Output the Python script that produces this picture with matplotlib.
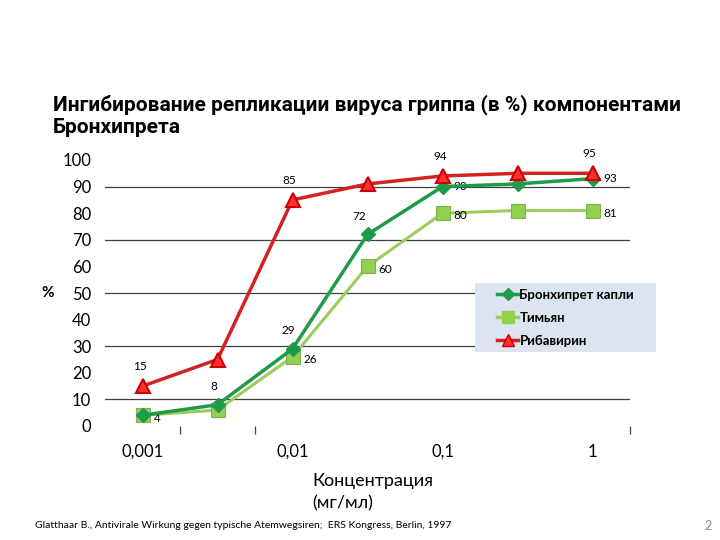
import matplotlib
matplotlib.use("Agg")
import matplotlib.pyplot as plt
from matplotlib.lines import Line2D
from matplotlib.patches import Rectangle

# concentration categories (log steps), only every other one is labelled
categories = ["0,001", "", "0,01", "", "0,1", "", "1"]
series_names = ["Бронхипрет капли", "Тимьян", "Рибавирин"]
bronchipret = [4, 8, 29, 72, 90, 91, 93]
thyme = [4, 6, 26, 60, 80, 81, 81]
ribavirin = [15, 25, 85, 91, 94, 95, 95]

# which points get a value label
labels_bronchipret = [1, 2, 3, 4, 6]
labels_thyme = [0, 2, 3, 4, 6]
labels_ribavirin = [0, 2, 4, 6]

plt.rcParams['font.family'] = ['Lato', 'DejaVu Sans']

fig = plt.figure(figsize=(7.2, 5.4), dpi=100)
ax = fig.add_axes([105 / 720, 1 - 426 / 540, 525 / 720, 266 / 540])

x = list(range(len(categories)))

c_dark = '#1e9a4c'
c_light = '#92d050'

ax.plot(x, thyme, color='#9bcc5e', lw=2.2, marker='s', ms=10,
        mfc=c_light, mec='#7fb548', mew=0.8, zorder=3)
ax.plot(x, bronchipret, color=c_dark, lw=2.5, marker='D', ms=7,
        mfc=c_dark, mec=c_dark, zorder=4)
ax.plot(x, ribavirin, color='#d42222', lw=2.5, marker='^', ms=10,
        mfc='#ff3030', mec='#cc0000', mew=1.5, zorder=5)

lbl = dict(fontsize=8.5, color='black', textcoords='offset points')
for i in labels_ribavirin:
    ax.annotate(str(ribavirin[i]), (x[i], ribavirin[i]), xytext=(-2, 10),
                ha='center', va='bottom', **lbl)
for i in labels_bronchipret:
    if i < 4:
        ax.annotate(str(bronchipret[i]), (x[i], bronchipret[i]),
                    xytext=(-6 if i == 3 else -3, 9), ha='center', va='bottom', **lbl)
    else:
        ax.annotate(str(bronchipret[i]), (x[i], bronchipret[i]),
                    xytext=(8, 0), ha='left', va='center', **lbl)
for i in labels_thyme:
    ax.annotate(str(thyme[i]), (x[i], thyme[i]), xytext=(8, -2),
                ha='left', va='center', **lbl)

ax.set_xlim(-0.5, len(categories) - 0.5)
ax.set_ylim(0, 100)
ax.set_yticks(range(0, 101, 10))
ax.set_yticklabels([str(v) for v in range(0, 101, 10)], fontsize=12)
ax.tick_params(axis='y', length=0, pad=10)

ax.set_xticks(x)
ax.set_xticklabels(categories, fontsize=12)
ax.tick_params(axis='x', which='major', length=0, pad=13)
ax.set_xticks([0.5, 1.5, 6.5], minor=True)
ax.tick_params(axis='x', which='minor', length=6, width=0.9, color='#444444',
               direction='out', pad=0)

for v in range(10, 100, 20):
    ax.axhline(v, color='#404040', lw=0.9, zorder=1)
for s in ax.spines.values():
    s.set_visible(False)

# legend box
fig.patches.append(Rectangle((475 / 720, 1 - 352 / 540), 181 / 720, 69 / 540,
                             transform=fig.transFigure, facecolor='#dbe4ef',
                             edgecolor='none', zorder=6))
handles = [Line2D([], [], color=c_dark, lw=2.5, marker='D', ms=6),
           Line2D([], [], color='#9bcc5e', lw=2.5, marker='s', ms=8, mfc=c_light, mec=c_light),
           Line2D([], [], color='#d42222', lw=2.5, marker='^', ms=8, mfc='#ff3030', mec='#cc0000')]
leg = fig.legend(handles, series_names, loc='upper left',
                 bbox_to_anchor=(497 / 720, 1 - 289 / 540),
                 borderaxespad=0, borderpad=0, frameon=False,
                 prop={'weight': 'bold', 'size': 9.5}, handlelength=1.6,
                 handletextpad=0.1, labelspacing=0.82)
leg.set_zorder(7)

fig.text(53 / 720, 1 - 116 / 540,
         "Ингибирование репликации вируса гриппа (в %) компонентами\nБронхипрета",
         fontsize=15, fontweight='bold', family=['Roboto', 'DejaVu Sans'],
         ha='left', va='center', linespacing=1.2)
fig.text(48 / 720, 1 - 293 / 540, "%", fontsize=11, fontweight='bold',
         ha='center', va='center')
fig.text(312 / 720, 1 - 492 / 540, "Концентрация\n(мг/мл)", fontsize=13,
         ha='left', va='center', linespacing=1.45)
fig.text(35 / 720, 1 - 526 / 540,
         "Glatthaar B., Antivirale Wirkung gegen typische Atemwegsiren;  ERS Kongress, Berlin, 1997",
         fontsize=7.5, ha='left', va='center')
fig.text(708 / 720, 1 - 526 / 540, "2", fontsize=9, color='#888888',
         ha='center', va='center')

fig.savefig('out.png', dpi=100)
